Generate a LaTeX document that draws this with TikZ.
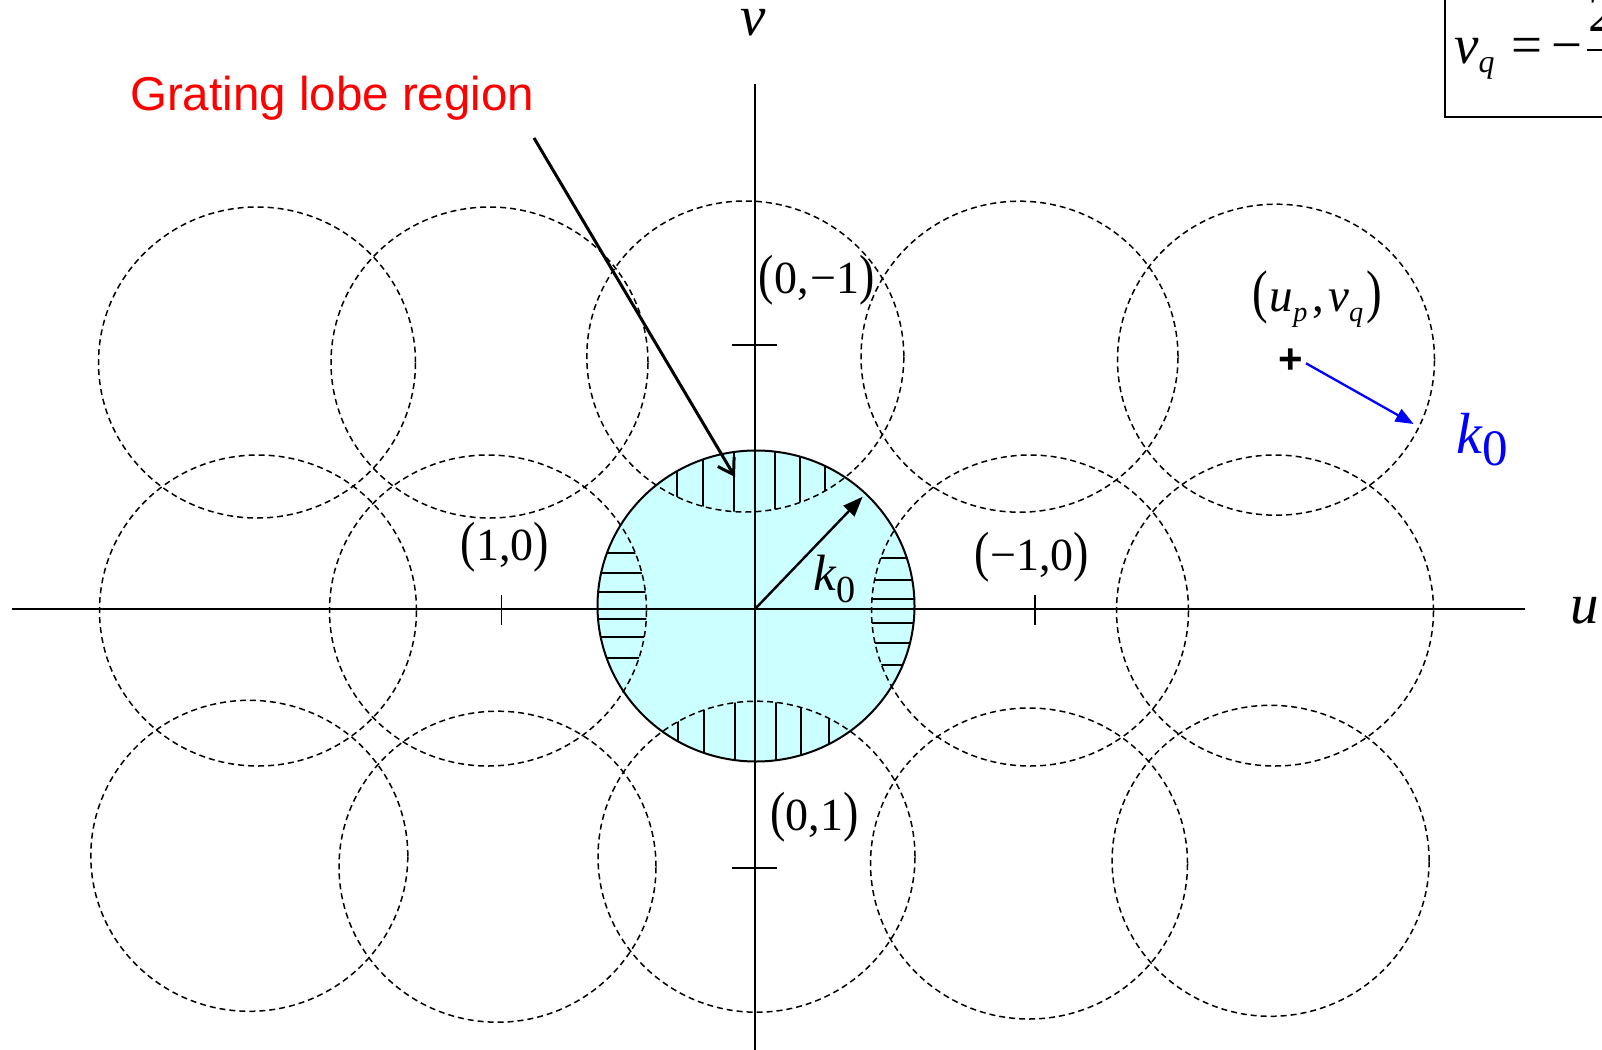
\documentclass[tikz,border=0pt]{standalone}
\usepackage{fontspec}
\usepackage{graphicx}
\setmainfont{Liberation Serif}
\newfontfamily\arialfont{Liberation Sans}
\usetikzlibrary{arrows.meta}
\definecolor{lobecyan}{RGB}{204,255,255}
\definecolor{gratred}{RGB}{255,0,0}
\definecolor{kblue}{RGB}{0,0,255}
\newcommand\lpr{\scalebox{1}[1.2]{(}}
\newcommand\rpr{\scalebox{1}[1.2]{)}}
\newcommand\lsub[3]{\raisebox{-#2em}{\scalebox{#1}{#3}}}
\begin{document}
\begin{tikzpicture}[x=1pt,y=-1pt,
  rim/.style={x radius=158.5pt,y radius=155.5pt},
  lobe/.style={draw=black,line width=1.5pt,dash pattern=on 6pt off 4pt},
  axisline/.style={line width=2pt},
  hatch/.style={line width=1.8pt},
  coordlbl/.style={font=\fontsize{46pt}{52pt}\selectfont,inner sep=0pt},
  varlbl/.style={font=\fontsize{57pt}{60pt}\selectfont\itshape,inner sep=0pt}]
\useasboundingbox (0,0) rectangle (1602,1049);
\clip (0,0) rectangle (1602,1049);

% centres
\coordinate (M) at (756,606);
\coordinate (LT) at (745.3,356.5);
\coordinate (LB) at (756.5,856.7);
\coordinate (LL) at (488,610.5);
\coordinate (LR) at (1030,610.5);

% visible region fill
\fill[lobecyan] (M) ellipse[rim];

% hatching of grating lobe regions
\begin{scope}
  \clip (M) ellipse[rim]; \clip (LT) ellipse[rim];
  \foreach \xx in {677,703,734,775,800,825} \draw[hatch] (\xx,430) -- (\xx,520);
\end{scope}
\begin{scope}
  \clip (M) ellipse[rim]; \clip (LB) ellipse[rim];
  \foreach \xx in {678,704,735,776,801,829} \draw[hatch] (\xx,690) -- (\xx,770);
\end{scope}
\begin{scope}
  \clip (M) ellipse[rim]; \clip (LL) ellipse[rim];
  \foreach \yy in {553,573,592,619,637,658} \draw[hatch] (590,\yy) -- (660,\yy);
\end{scope}
\begin{scope}
  \clip (M) ellipse[rim]; \clip (LR) ellipse[rim];
  \foreach \yy in {558,580,599,623,643,665} \draw[hatch] (860,\yy) -- (920,\yy);
\end{scope}

% dashed grating lobe circles
\foreach \cx/\cy in {257/362.5,489.5/362.5,745.3/356.5,1019.5/356.7,1276/359.7,
                     258/610.5,488/610.5,1030/610.5,1275/610.5,
                     249.3/855.8,497.5/866.7,756.5/856.7,1029/863.5,1270.6/860.8}
  \draw[lobe] (\cx,\cy) ellipse[rim];

% visible region outline
\draw[line width=2pt] (M) ellipse[rim];

% axes
\coordinate (uL) at (12,609); \coordinate (uR) at (1525,609);
\coordinate (vT) at (755,84); \coordinate (vB) at (755,1052);
\draw[axisline] (uL) -- (uR);
\draw[axisline] (vT) -- (vB);
% ticks
\coordinate (t1a) at (501.6,595); \coordinate (t1b) at (501.6,625);
\coordinate (t2a) at (1035,595); \coordinate (t2b) at (1035,625);
\coordinate (t3a) at (731.5,345); \coordinate (t3b) at (776.5,345);
\coordinate (t4a) at (731.5,867.7); \coordinate (t4b) at (776.5,867.7);
\draw[line width=1.6pt] (t1a) -- (t1b);
\draw[line width=1.6pt] (t2a) -- (t2b);
\draw[line width=1.6pt] (t3a) -- (t3b);
\draw[line width=1.6pt] (t4a) -- (t4b);

% axis names
\node[varlbl,anchor=base] (vlab) at (753,36) {v};
\node[varlbl,anchor=base] (ulab) at (1585,623) {u};

% coordinate labels
\node[coordlbl] (p01m) at (817,280) {\lpr0,\kern2pt−1\rpr};
\node[coordlbl] (p10) at (505,547.5) {\lpr1,0\rpr};
\node[coordlbl] (pm10) at (1032,557) {\lpr−1,0\rpr};
\node[coordlbl] (p01) at (814.5,817) {\lpr0,1\rpr};
\node[coordlbl,font=\fontsize{47pt}{52pt}\selectfont] (upvq) at (1317,299)
  {\scalebox{1}[1.25]{(}\kern2pt\textit{u}\lsub{0.6}{0.22}{\textit{p}}\kern5pt,\kern4pt\textit{v}\lsub{0.6}{0.22}{\textit{q}}\kern3pt\scalebox{1}[1.25]{)}};

% radius k0 in visible circle
\coordinate (O) at (755,609);
\coordinate (K) at (862.7,496.7);
\draw[line width=2.4pt,-{Triangle[length=20pt,width=15pt]}] (O) -- (K);
\node[inner sep=0pt,anchor=base west,font=\fontsize{51pt}{55pt}\selectfont] (k0a) at (813,590)
  {\textit{k}\lsub{0.75}{0.25}{0}};

% lobe centre (u_p,v_q) and its radius
\node[inner sep=0pt,font=\fontsize{42pt}{42pt}\arialfont\bfseries] (plus) at (1291,361.5) {+};
\coordinate (KB) at (1413.6,424);
\draw[kblue,line width=2.3pt,-{Triangle[length=18pt,width=14pt]}] (1306,363.3) -- (KB);
\node[inner sep=0pt,anchor=base west,text=kblue,font=\fontsize{58pt}{60pt}\selectfont] (k0b) at (1456,453)
  {\textit{k}\lsub{0.88}{0.22}{0}};

% grating lobe label and arrow
\node[inner sep=0pt,anchor=base west,text=gratred,font=\fontsize{47.5pt}{50pt}\arialfont] (glr) at (130,110)
  {Grating lobe region};
\coordinate (GA) at (534,138);
\coordinate (GB) at (735,477);
\draw[line width=3pt,-{Straight Barb[length=15pt,width=19pt,line width=3pt]}] (GA) -- (GB);

% partially visible formula box
\coordinate (BX1) at (1445,-10);
\coordinate (BX2) at (1700,117.3);
\draw[line width=2pt] (BX1) rectangle (BX2);
\node[inner sep=0pt,anchor=base west,font=\fontsize{55pt}{58pt}\selectfont] (vqeq) at (1454,63.3)
  {\textit{v}\lsub{0.58}{0.16}{\textit{q}}};
\node[inner sep=0pt,anchor=base west,font=\fontsize{55pt}{58pt}\selectfont] (eqs) at (1511,63.3) {=};
\node[inner sep=0pt,anchor=base west,font=\fontsize{55pt}{58pt}\selectfont] (mns) at (1551,63.3) {−};
\coordinate (FB1) at (1587,50); \coordinate (FB2) at (1640,50);
\draw[line width=2.2pt] (FB1) -- (FB2);
\node[inner sep=0pt,anchor=base west,font=\fontsize{55pt}{58pt}\selectfont] (num) at (1588,32) {2};
\end{tikzpicture}
\end{document}
